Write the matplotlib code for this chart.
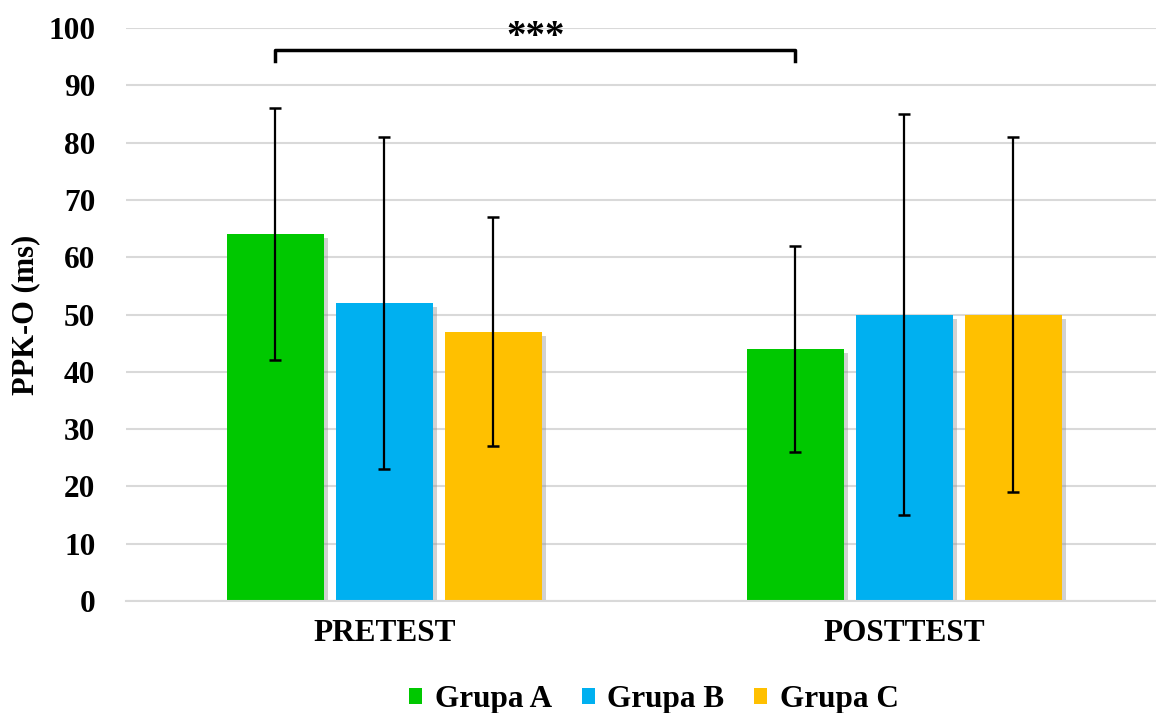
import matplotlib.pyplot as plt
import matplotlib.patheffects as pe
from matplotlib.patches import Patch
import numpy as np

# data
phases = ["PRETEST", "POSTTEST"]
groups = ["Grupa A", "Grupa B", "Grupa C"]
means = {
    "Grupa A": [64, 44],
    "Grupa B": [52, 50],
    "Grupa C": [47, 50],
}
lower = {
    "Grupa A": [42, 26],
    "Grupa B": [23, 15],
    "Grupa C": [27, 19],
}
upper = {
    "Grupa A": [86, 62],
    "Grupa B": [81, 85],
    "Grupa C": [67, 81],
}
colors = ["#00C800", "#00B0F0", "#FFC000"]
y_ticks = list(range(0, 101, 10))
sig_label = "***"

plt.rcParams["font.family"] = ["Liberation Serif", "DejaVu Serif"]
plt.rcParams["font.weight"] = "bold"

fig = plt.figure(figsize=(11.56, 7.13), dpi=100)
# axes in pixels: left 126, right 1156, bottom 601 (from top), top 28
W, H = 1156, 713
y0_px, y100_px = 601, 28
ax = fig.add_axes([126 / W, (H - y0_px) / H, (W - 126) / W, (y0_px - y100_px) / H])

x = np.arange(len(phases))
width = 0.1865
step = 0.2096

shadow = [pe.SimplePatchShadow(offset=(3, -3), shadow_rgbFace="#8c8c8c", alpha=0.4), pe.Normal()]

for i, g in enumerate(groups):
    pos = x + (i - 1) * step
    m = np.array(means[g])
    err = np.array([m - np.array(lower[g]), np.array(upper[g]) - m])
    bars = ax.bar(pos, m, width, color=colors[i], zorder=2)
    for b in bars:
        b.set_path_effects(shadow)
    ax.errorbar(pos, m, yerr=err, fmt="none", ecolor="black", elinewidth=1.6,
                capsize=4.3, capthick=1.8, zorder=3)

# significance bracket between pretest A and posttest A
xa = x[0] - step
xb = x[1] - step
ax.plot([xa, xa, xb, xb], [94.2, 96.2, 96.2, 94.2], color="black", lw=2.5,
        clip_on=False, zorder=4)
ax.text((xa + xb) / 2, 96.7, sig_label, ha="center", va="baseline", fontsize=28,
        fontweight="bold", clip_on=False)

ax.set_xlim(-0.497, 1.4837)
ax.set_ylim(0, 100)
ax.set_yticks(y_ticks)
ax.set_xticks(x)
ax.set_xticklabels(phases, fontsize=22.5, fontweight="bold")
ax.tick_params(axis="y", labelsize=22.5, length=0, pad=22)
ax.tick_params(axis="x", length=0, pad=13)
ax.grid(axis="y", color="#D9D9D9", lw=1.5, zorder=0)
ax.set_axisbelow(True)
for s in ["top", "right", "left"]:
    ax.spines[s].set_visible(False)
ax.spines["bottom"].set_color("#D9D9D9")
ax.spines["bottom"].set_linewidth(1.5)

ax.set_ylabel("PPK-O (ms)", fontsize=22, fontweight="bold", labelpad=6)

handles = [Patch(facecolor=c, edgecolor="none") for c in colors]
leg = fig.legend(handles, groups, loc="center", bbox_to_anchor=(654 / W, (H - 700) / H),
                 ncol=3, frameon=False, fontsize=22.5, handlelength=0.42, handleheight=0.42,
                 handletextpad=0.4, columnspacing=0.95)

fig.savefig("out.png", dpi=100)
